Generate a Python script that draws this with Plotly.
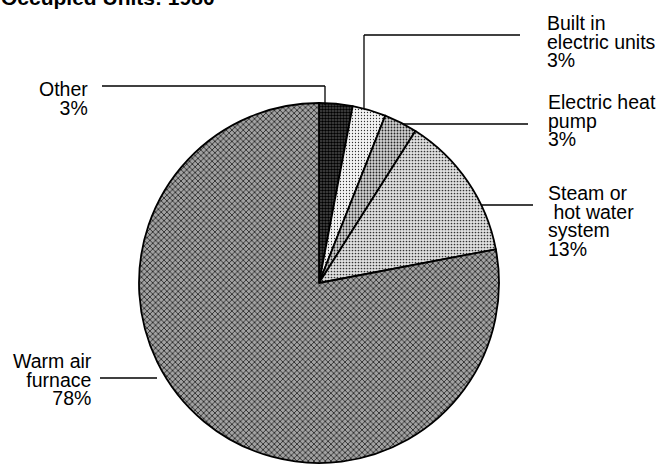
import plotly.graph_objects as go

W, H = 665, 469

# ---- data ----
categories = ["Other", "Built in electric units", "Electric heat pump",
              "Steam or hot water system", "Warm air furnace"]
values = [3, 3, 3, 13, 78]
label_lines = [
    ["Other", "3%"],
    ["Built in", "electric units", "3%"],
    ["Electric heat", "pump", "3%"],
    ["Steam or", " hot water", "system", "13%"],
    ["Warm air", "furnace", "78%"],
]
title_text = "Occupied Units: 1980"

# ---- styling ----
FONT = "Liberation Sans, Arial, Helvetica, sans-serif"
FS = 19.5          # glyph size
LINE_FS = 14.4     # base size that sets line spacing (1.3em ~ 18.7px)
pat_shape = [".", ".", ".", ".", "x"]
pat_size = [3, 3, 3, 3, 4]
pat_solid = [0.55, 0.15, 0.3, 0.25, 0.3]
pat_fg = ["#000000", "#333333", "#222222", "#333333", "#000000"]
pat_bg = ["#4d4d4d", "#f4f4f4", "#d2d2d2", "#e0e0e0", "#a2a2a2"]


def px(x):
    return x / W


def py(y):
    return 1 - y / H


cx, cy, r = 319, 283, 180

fig = go.Figure(go.Pie(
    labels=categories,
    values=values,
    sort=False,
    direction="clockwise",
    rotation=0,
    textinfo="none",
    hoverinfo="label+percent",
    showlegend=False,
    marker=dict(colors=pat_bg, line=dict(color="black", width=1.8),
                pattern=dict(shape=pat_shape, size=pat_size, solidity=pat_solid,
                             fgcolor=pat_fg, bgcolor=pat_bg, fillmode="replace")),
    domain=dict(x=[px(cx - r), px(cx + r)], y=[py(cy + r), py(cy - r)]),
))

# label layout: (anchor x, first baseline, alignment)
label_pos = [
    (90, 95, "right"),
    (545, 29, "left"),
    (546, 108, "left"),
    (546, 199, "left"),
    (94, 367, "right"),
]
annotations = []
for lines, (ax, by, al) in zip(label_lines, label_pos):
    parts = []
    for t in lines:
        t = t.replace(" ", "&nbsp;") if t.startswith(" ") else t
        parts.append('<span style="font-size:%spx">%s</span>' % (FS, t))
    annotations.append(dict(
        x=px(ax), y=py(by - 19), xref="paper", yref="paper",
        text="<br>".join(parts), align=al,
        showarrow=False, xanchor=al, yanchor="top",
        font=dict(family=FONT, size=LINE_FS, color="black"),
    ))

annotations.append(dict(
    x=px(-1), y=py(-2.5), xref="paper", yref="paper",
    text="<b>" + title_text + "</b>", showarrow=False,
    xanchor="left", yanchor="middle",
    font=dict(family=FONT, size=21, color="black"),
))

# leader lines (pixel paths)
leaders = [
    [(102, 86), (325, 86), (325, 105)],
    [(520, 35), (364, 35), (364, 108)],
    [(528, 124), (403, 124)],
    [(533, 205), (482, 205)],
    [(100, 378), (157, 378)],
]
shapes = []
for pts in leaders:
    for (x0, y0), (x1, y1) in zip(pts[:-1], pts[1:]):
        shapes.append(dict(type="line", xref="paper", yref="paper",
                           x0=px(x0), y0=py(y0), x1=px(x1), y1=py(y1),
                           line=dict(color="black", width=1.3)))

fig.update_layout(
    width=W, height=H,
    margin=dict(l=0, r=0, t=0, b=0),
    paper_bgcolor="white", plot_bgcolor="white",
    annotations=annotations, shapes=shapes,
)

fig.write_html("out.html", config={"displayModeBar": False},
               post_script="document.body.style.margin='0px';")
